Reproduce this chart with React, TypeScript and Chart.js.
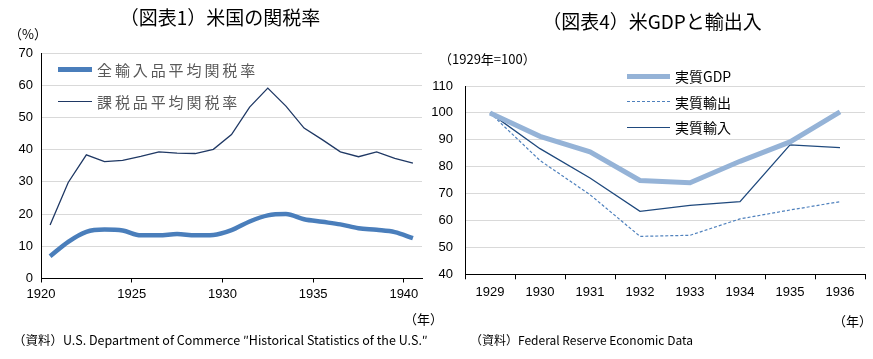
import React, { useEffect, useRef } from 'react';
import { Chart, registerables } from 'chart.js';

Chart.register(...registerables);

// ---- Data: chart 1 (US tariff rates) ----
const tariffYears = [1920, 1921, 1922, 1923, 1924, 1925, 1926, 1927, 1928, 1929, 1930, 1931, 1932, 1933, 1934, 1935, 1936, 1937, 1938, 1939, 1940];
const allImportsRate = [6.9, 11.4, 14.5, 15.2, 14.9, 13.4, 13.4, 13.8, 13.4, 13.5, 15.0, 17.7, 19.6, 20.0, 18.4, 17.6, 16.8, 15.6, 15.1, 14.4, 12.5];
const dutiableRate = [16.6, 29.8, 38.4, 36.3, 36.7, 37.9, 39.3, 38.9, 38.8, 40.1, 44.7, 53.2, 59.1, 53.5, 46.7, 43.1, 39.3, 37.8, 39.3, 37.3, 35.8];
const tariffTicks = [1920, 1925, 1930, 1935, 1940];

// ---- Data: chart 4 (US GDP and trade, 1929=100) ----
const usYears = ['1929', '1930', '1931', '1932', '1933', '1934', '1935', '1936'];
const realGDP = [100, 91.3, 85.5, 74.9, 74.0, 82.0, 89.2, 100.4];
const realExports = [100, 82.3, 69.6, 54.1, 54.5, 60.6, 63.9, 67.0];
const realImports = [100, 86.7, 75.8, 63.4, 65.6, 67.0, 88.1, 87.1];

const JP = '"Noto Sans CJK JP", "Noto Sans", sans-serif';
const NUM = '"Liberation Sans", Arial, sans-serif';

const abs = (x: number, y: number, extra: React.CSSProperties = {}): React.CSSProperties => ({
  position: 'absolute',
  left: x,
  top: y,
  transform: 'translateY(-50%)',
  whiteSpace: 'nowrap',
  lineHeight: 1,
  ...extra,
});

export default function App() {
  const leftRef = useRef<HTMLCanvasElement | null>(null);
  const rightRef = useRef<HTMLCanvasElement | null>(null);

  useEffect(() => {
    const tickFont = { family: NUM, size: 13 };
    const left = new Chart(leftRef.current as HTMLCanvasElement, {
      type: 'line',
      data: {
        datasets: [
          {
            label: '全輸入品平均関税率',
            data: tariffYears.map((y, i) => ({ x: y + 0.5, y: allImportsRate[i] })),
            borderColor: '#4A7EBB',
            borderWidth: 4.5,
            pointRadius: 0,
            cubicInterpolationMode: 'monotone',
          },
          {
            label: '課税品平均関税率',
            data: tariffYears.map((y, i) => ({ x: y + 0.5, y: dutiableRate[i] })),
            borderColor: '#1F3864',
            borderWidth: 1.3,
            pointRadius: 0,
          },
        ],
      },
      options: {
        responsive: false,
        animation: false,
        layout: { padding: { top: 53, right: 14, bottom: 56.5, left: 0 } },
        plugins: { legend: { display: false }, tooltip: { enabled: false } },
        scales: {
          x: {
            type: 'linear',
            min: 1920,
            max: 1941,
            afterBuildTicks: (s: any) => {
              s.ticks = tariffTicks.map((v) => ({ value: v }));
            },
            afterFit: (s: any) => {
              s.height = 24;
            },
            ticks: {
              callback: (v: any) => String(v),
              color: '#000',
              font: tickFont,
              padding: 4,
              maxRotation: 0,
            },
            grid: { drawOnChartArea: false, tickLength: 4, color: '#000' },
            border: { color: '#000', width: 1 },
          },
          y: {
            min: 0,
            max: 70,
            afterFit: (s: any) => {
              s.width = 41;
            },
            ticks: { stepSize: 10, color: '#000', font: tickFont, padding: 8 },
            grid: { color: '#D9D9D9', drawTicks: false },
            border: { color: '#000', width: 1 },
          },
        },
      },
    } as any);

    const right = new Chart(rightRef.current as HTMLCanvasElement, {
      type: 'line',
      data: {
        labels: usYears,
        datasets: [
          {
            label: '実質GDP',
            data: realGDP,
            borderColor: '#95B3D7',
            borderWidth: 5,
            pointRadius: 0,
          },
          {
            label: '実質輸出',
            data: realExports,
            borderColor: '#4F81BD',
            borderWidth: 1.2,
            borderDash: [3, 2],
            pointRadius: 0,
          },
          {
            label: '実質輸入',
            data: realImports,
            borderColor: '#1F497D',
            borderWidth: 1.3,
            pointRadius: 0,
          },
        ],
      },
      options: {
        responsive: false,
        animation: false,
        layout: { padding: { top: 86, right: 8, bottom: 60.7, left: 0 } },
        plugins: { legend: { display: false }, tooltip: { enabled: false } },
        scales: {
          x: {
            type: 'category',
            offset: true,
            afterFit: (s: any) => {
              s.height = 24;
            },
            ticks: { color: '#000', font: tickFont, padding: 5, maxRotation: 0 },
            grid: { offset: true, drawOnChartArea: false, tickLength: 5, color: '#000' },
            border: { color: '#000', width: 1 },
          },
          y: {
            min: 40,
            max: 110,
            afterFit: (s: any) => {
              s.width = 45;
            },
            ticks: { stepSize: 10, color: '#000', font: tickFont, padding: 12 },
            grid: { color: '#D9D9D9', drawTicks: false },
            border: { color: '#000', width: 1 },
          },
        },
      },
    } as any);

    return () => {
      left.destroy();
      right.destroy();
    };
  }, []);

  const legendText = { fontFamily: JP, fontSize: 14 };

  return (
    <div style={{ position: 'fixed', left: 0, top: 0, width: 873, height: 359, background: '#fff', overflow: 'hidden', fontFamily: JP, color: '#000' }}>
      <canvas ref={leftRef} width={436} height={359} style={{ position: 'absolute', left: 0, top: 0 }} />
      <canvas ref={rightRef} width={453} height={359} style={{ position: 'absolute', left: 420, top: 0 }} />

      {/* Titles */}
      <div style={{ position: 'absolute', left: 20, width: 400, top: 16, transform: 'translateY(-50%)', textAlign: 'center', fontSize: 19, lineHeight: 1, whiteSpace: 'nowrap' }}>（図表1）米国の関税率</div>
      <div style={{ position: 'absolute', left: 452, width: 400, top: 20, transform: 'translateY(-50%)', textAlign: 'center', fontSize: 19, lineHeight: 1, whiteSpace: 'nowrap' }}>（図表4）米GDPと輸出入</div>

      {/* Unit labels */}
      <div style={abs(9, 33, { fontSize: 13 })}>（%）</div>
      <div style={abs(439, 58, { fontSize: 13 })}>（1929年=100）</div>
      <div style={abs(404, 318, { fontSize: 13 })}>（年）</div>
      <div style={abs(833, 320, { fontSize: 13 })}>（年）</div>

      {/* Left legend */}
      <div style={{ position: 'absolute', left: 58, top: 67, width: 34, height: 4.5, background: '#4A7EBB' }} />
      <div style={abs(97, 69, { fontFamily: JP, fontSize: 15, color: '#595959', letterSpacing: 2.9 })}>全輸入品平均関税率</div>
      <div style={{ position: 'absolute', left: 58, top: 100.5, width: 34, height: 1.3, background: '#1F3864' }} />
      <div style={abs(97, 101, { fontFamily: JP, fontSize: 15, color: '#595959', letterSpacing: 2.9 })}>課税品平均関税率</div>

      {/* Right legend */}
      <div style={{ position: 'absolute', left: 627, top: 73.5, width: 43, height: 5, background: '#95B3D7' }} />
      <div style={abs(675, 76, legendText)}>実質GDP</div>
      <div style={{ position: 'absolute', left: 627, top: 101, width: 43, height: 0, borderTop: '1.2px dashed #4F81BD' }} />
      <div style={abs(675, 102, legendText)}>実質輸出</div>
      <div style={{ position: 'absolute', left: 627, top: 126.5, width: 43, height: 1.3, background: '#1F497D' }} />
      <div style={abs(675, 127, legendText)}>実質輸入</div>

      {/* Notes */}
      <div style={abs(13, 340, { fontSize: 12.5 })}>（資料）U.S. Department of Commerce ″Historical Statistics of the U.S.″</div>
      <div style={abs(470, 340, { fontSize: 12 })}>（資料）Federal Reserve Economic Data</div>
    </div>
  );
}
